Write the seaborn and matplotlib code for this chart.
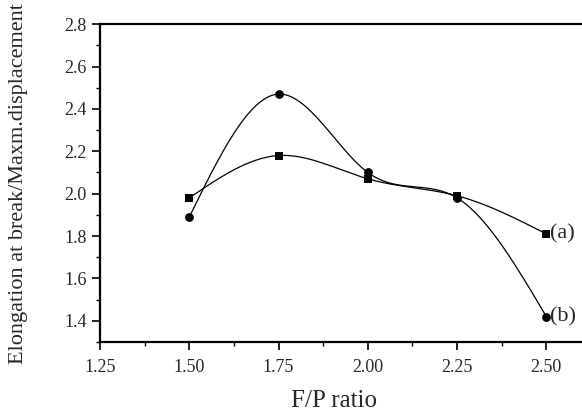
import numpy as np
import pandas as pd
import matplotlib
matplotlib.use("Agg")
import matplotlib.pyplot as plt
import seaborn as sns
from matplotlib.ticker import MultipleLocator

fp_ratio = [1.50, 1.75, 2.00, 2.25, 2.50]
series_a = [1.98, 2.18, 2.07, 1.99, 1.81]
series_b = [1.89, 2.47, 2.10, 1.98, 1.42]
labels = ["(a)", "(b)"]
xticks = [1.25, 1.50, 1.75, 2.00, 2.25, 2.50]
yticks = [1.4, 1.6, 1.8, 2.0, 2.2, 2.4, 2.6, 2.8]


def natural_spline(x, y, n=200):
    x = np.asarray(x, float); y = np.asarray(y, float)
    k = len(x); h = np.diff(x)
    A = np.zeros((k, k)); r = np.zeros(k)
    A[0, 0] = A[-1, -1] = 1
    for i in range(1, k - 1):
        A[i, i - 1] = h[i - 1]; A[i, i] = 2 * (h[i - 1] + h[i]); A[i, i + 1] = h[i]
        r[i] = 3 * ((y[i + 1] - y[i]) / h[i] - (y[i] - y[i - 1]) / h[i - 1])
    c = np.linalg.solve(A, r)
    xs = np.linspace(x[0], x[-1], n); ys = np.empty_like(xs)
    for j, xv in enumerate(xs):
        i = min(np.searchsorted(x, xv, side="right") - 1, k - 2)
        dx = xv - x[i]
        b = (y[i + 1] - y[i]) / h[i] - h[i] * (2 * c[i] + c[i + 1]) / 3
        d = (c[i + 1] - c[i]) / (3 * h[i])
        ys[j] = y[i] + b * dx + c[i] * dx ** 2 + d * dx ** 3
    return xs, ys


sns.set_style("ticks")
plt.rcParams["font.family"] = ["Liberation Serif", "DejaVu Serif"]

fig = plt.figure(figsize=(5.82, 4.17), dpi=100)
ax = fig.add_axes([0.172, 0.180, 0.828, 0.762])

for vals, marker, lab in [(series_a, "s", labels[0]), (series_b, "o", labels[1])]:
    xs, ys = natural_spline(fp_ratio, vals)
    sns.lineplot(x=xs, y=ys, ax=ax, color="black", linewidth=0.9, sort=False)
    df = pd.DataFrame({"x": fp_ratio, "y": vals})
    sns.scatterplot(data=df, x="x", y="y", ax=ax, marker=marker, color="black",
                    s=40, edgecolor="black", linewidth=0, zorder=3)
    ax.annotate(lab, (fp_ratio[-1], vals[-1]), xytext=(3, 0), textcoords="offset points",
                ha="left", va="center", fontsize=16, annotation_clip=False)

ax.set_xlim(1.25, 2.6)
ax.set_ylim(1.3, 2.8)
ax.set_xticks(xticks)
ax.set_xticklabels([f"{t:.2f}" for t in xticks])
ax.set_yticks(yticks)
ax.set_yticklabels([f"{t:.1f}" for t in yticks])
ax.xaxis.set_minor_locator(MultipleLocator(0.125))
ax.yaxis.set_minor_locator(MultipleLocator(0.1))
ax.tick_params(which="major", direction="out", length=6, width=1.2, labelsize=13, color="black")
ax.tick_params(axis="x", which="major", pad=6)
ax.tick_params(which="minor", direction="out", length=3, width=1.0, color="black")
ax.set_xlabel("F/P ratio", fontsize=18)
ax.xaxis.set_label_coords(0.486, -0.15)
ax.set_ylabel("Elongation at break/Maxm.displacement", fontsize=16, labelpad=26)
ax.spines["right"].set_visible(False)
for s in ["left", "bottom", "top"]:
    ax.spines[s].set_linewidth(1.6)
    ax.spines[s].set_color("black")

fig.savefig("out.png", dpi=100)
